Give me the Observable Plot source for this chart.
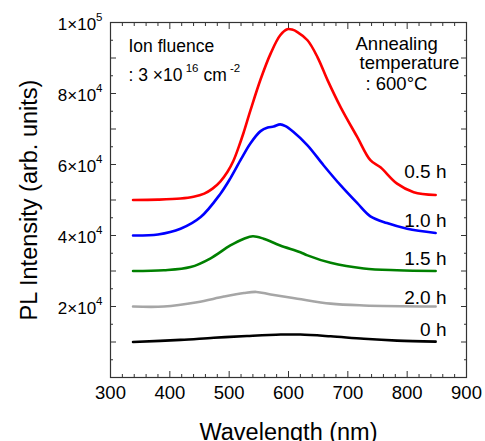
<!DOCTYPE html>
<html><head><meta charset="utf-8">
<script src="https://cdn.jsdelivr.net/npm/d3@7"></script>
<script src="https://cdn.jsdelivr.net/npm/@observablehq/plot@0.6"></script>
<style>body{margin:0;background:#fff;}</style>
</head><body><div id="chart"></div>
<script>
// ---- data ----
const seriesNames = ["0.5 h", "1.0 h", "1.5 h", "2.0 h", "0 h"];
const seriesColors = ["#ff0000", "#0000ff", "#008000", "#a6a6a6", "#000000"];

const curve05 = [[338,50000],[380,50100],[418,50400],[440,50900],[458,51800],[472,53200],[485,55200],[497,57900],[507,61000],[516,64900],[524,68800],[536,75300],[553,84000],[570,91300],[586,96400],[598,98100],[606,98000],[615,97300],[632,95000],[649,90200],[666,83700],[688,76100],[716,67700],[738,61200],[755,59200],[783,54600],[811,52200],[848,51400]];
const curve10 = [[338,40000],[380,40300],[418,41900],[452,45200],[485,51700],[502,56100],[520,61500],[536,66000],[553,69400],[565,70400],[575,70700],[586,71300],[595,70800],[608,69200],[632,65400],[659,59800],[688,54100],[716,49100],[738,45400],[766,43500],[800,41900],[848,40700]];
const curve15 = [[338,30000],[390,30200],[435,31100],[468,33500],[502,37200],[525,39100],[540,39800],[558,39100],[586,37200],[620,35300],[632,34400],[671,32300],[727,30700],[783,30200],[848,30000]];
const curve20 = [[338,20000],[390,20000],[446,21200],[491,22800],[525,23800],[546,24100],[570,23400],[615,22200],[671,20800],[727,20300],[848,20000]];
const curve00 = [[338,10000],[418,10600],[474,11200],[530,11700],[587,12100],[620,12100],[671,11600],[727,10900],[783,10400],[848,10100]];
const curves = [curve05, curve10, curve15, curve20, curve00];

const labelValues = [56300, 42300, 31600, 20800, 11800];

const xTicks = [300, 400, 500, 600, 700, 800, 900];
const yLabelTicks = [20000, 40000, 60000, 80000, 100000];
const yTickLabels = ["2×10^{4}", "4×10^{4}", "6×10^{4}", "8×10^{4}", "1×10^{5}"];

const xTitle = "Wavelength (nm)";
const yTitle = "PL Intensity (arb. units)";
const fluenceText = ["Ion fluence", ": 3 ×10^{ 16} cm^{ -2}"];
const annealText = ["Annealing", "temperature", ": 600°C"];

// ---- build table ----
const rows = curves.flatMap((c, i) => c.map(([w, v]) => ({series: seriesNames[i], wavelength: w, intensity: v})));
const xMinor = d3.range(300, 901, 20).filter(v => v % 100 !== 0);
const yMajor = d3.range(0, 100001, 10000);
const yMinor = d3.range(5000, 100000, 10000);

const font = "Arial, 'Liberation Sans', Helvetica, sans-serif";
const tickColor = "#333";

const chart = Plot.plot({
  width: 485,
  height: 441,
  marginLeft: 110,
  marginRight: 19,
  marginTop: 22,
  marginBottom: 64,
  style: {fontFamily: font, background: "#fff", color: "#000"},
  x: {domain: [300, 900]},
  y: {domain: [0, 100000]},
  color: {domain: seriesNames, range: seriesColors},
  marks: [
    // inside ticks
    Plot.axisX({anchor: "bottom", ticks: xTicks, tickSize: -6, fill: "none", stroke: tickColor, label: null}),
    Plot.axisX({anchor: "bottom", ticks: xMinor, tickSize: -3, fill: "none", stroke: tickColor, label: null}),
    Plot.axisX({anchor: "top", ticks: xTicks, tickSize: -6, fill: "none", stroke: tickColor, label: null}),
    Plot.axisX({anchor: "top", ticks: xMinor, tickSize: -3, fill: "none", stroke: tickColor, label: null}),
    Plot.axisY({anchor: "left", ticks: yMajor, tickSize: -6, fill: "none", stroke: tickColor, label: null}),
    Plot.axisY({anchor: "left", ticks: yMinor, tickSize: -3, fill: "none", stroke: tickColor, label: null}),
    Plot.axisY({anchor: "right", ticks: yMajor, tickSize: -6, fill: "none", stroke: tickColor, label: null}),
    Plot.axisY({anchor: "right", ticks: yMinor, tickSize: -3, fill: "none", stroke: tickColor, label: null}),
    // tick labels
    Plot.axisX({anchor: "bottom", ticks: xTicks, tickSize: 0, tickPadding: 8, fontSize: 18.5, label: null, tickFormat: d => String(d)}),
    Plot.axisY({anchor: "left", ticks: yLabelTicks, tickSize: 0, tickPadding: 8, fontSize: 17, dy: 2, label: null,
      tickFormat: d => yTickLabels[yLabelTicks.indexOf(d)]}),
    Plot.frame({stroke: tickColor, strokeWidth: 1.2}),
    // curves
    Plot.line(rows, {x: "wavelength", y: "intensity", z: "series", stroke: "series", strokeWidth: 2.6, curve: "catmull-rom"}),
    // series labels
    Plot.text(seriesNames, {text: d => d, y: (d, i) => labelValues[i], frameAnchor: "right", dx: -20, textAnchor: "end", lineAnchor: "bottom", fontSize: 19}),
    // annotations
    Plot.text([fluenceText[0]], {text: d => d, frameAnchor: "top-left", dx: 18, dy: 29.7, textAnchor: "start", lineAnchor: "bottom", fontSize: 17.5}),
    Plot.text([fluenceText[1]], {text: d => d, frameAnchor: "top-left", dx: 18, dy: 58, textAnchor: "start", lineAnchor: "bottom", fontSize: 17.5}),
    Plot.text([annealText[0]], {text: d => d, frameAnchor: "top-left", dx: 245, dy: 27, textAnchor: "start", lineAnchor: "bottom", fontSize: 18.5}),
    Plot.text([annealText[1]], {text: d => d, frameAnchor: "top-left", dx: 249, dy: 46, textAnchor: "start", lineAnchor: "bottom", fontSize: 18.5}),
    Plot.text([annealText[2]], {text: d => d, frameAnchor: "top-left", dx: 255, dy: 67, textAnchor: "start", lineAnchor: "bottom", fontSize: 18.5}),
    // axis titles
    Plot.text([xTitle], {text: d => d, frameAnchor: "bottom", dy: 62, textAnchor: "middle", lineAnchor: "bottom", fontSize: 23.5}),
    Plot.text([yTitle], {text: d => d, frameAnchor: "left", dx: -81, rotate: -90, textAnchor: "middle", lineAnchor: "middle", fontSize: 23.5})
  ]
});

// ---- superscript markup ^{...} -> tspans ----
d3.select(chart).selectAll("text").each(function() {
  const s = this.textContent;
  if (!s.includes("^{")) return;
  const parts = s.split(/\^\{([^}]*)\}/);
  const el = d3.select(this);
  el.text("");
  const shift = 8.5;
  let raised = false;
  parts.forEach((p, i) => {
    if (p === "") { return; }
    const sup = i % 2 === 1;
    const t = el.append("tspan").text(p);
    if (sup) {
      t.attr("font-size", 11.5);
      if (!raised) { t.attr("dy", -shift); raised = true; }
    } else if (raised) {
      t.attr("dy", shift); raised = false;
    }
  });
});

document.getElementById("chart").appendChild(chart);
</script>
</body></html>
